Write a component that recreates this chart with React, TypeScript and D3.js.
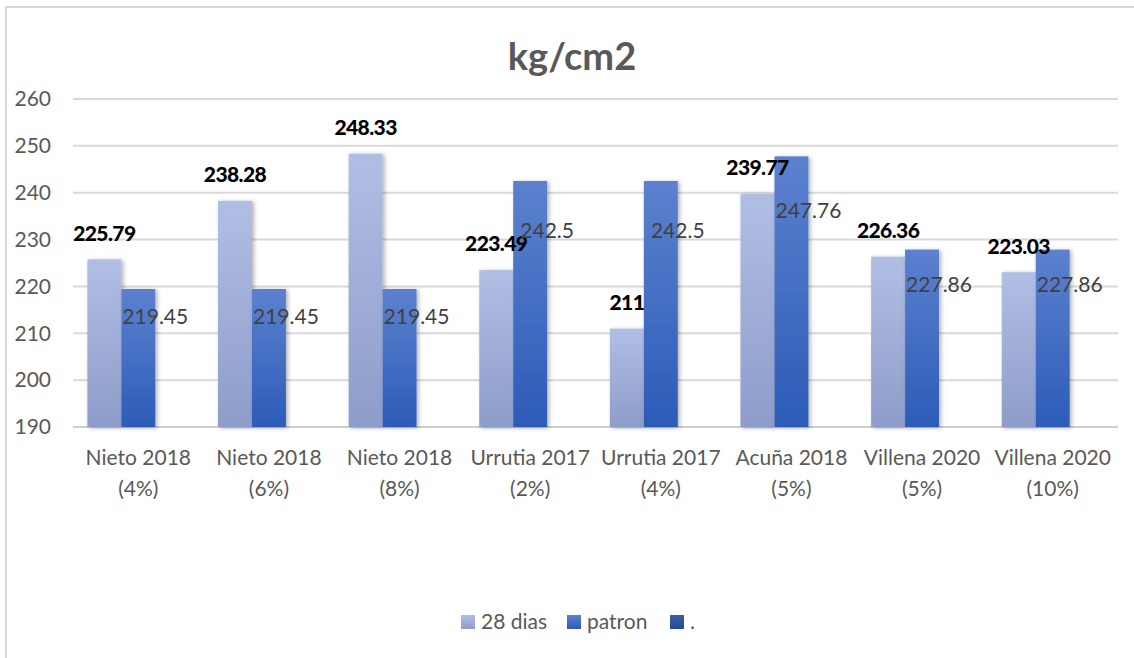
import React from "react";
import * as d3 from "d3";

const categories = [
  ["Nieto 2018", "(4%)"],
  ["Nieto 2018", "(6%)"],
  ["Nieto 2018", "(8%)"],
  ["Urrutia 2017", "(2%)"],
  ["Urrutia 2017", "(4%)"],
  ["Acuña 2018", "(5%)"],
  ["Villena 2020", "(5%)"],
  ["Villena 2020", "(10%)"],
];
const dias28 = [225.79, 238.28, 248.33, 223.49, 211, 239.77, 226.36, 223.03];
const patron = [219.45, 219.45, 219.45, 242.5, 242.5, 247.76, 227.86, 227.86];
const seriesNames = ["28 dias", "patron", "."];
const yTicks = [190, 200, 210, 220, 230, 240, 250, 260];

const W = 1134;
const H = 658;
const FONT = "Lato, 'Open Sans', sans-serif";

export default function App() {
  const margin = { top: 99, right: 16, bottom: 231, left: 73 };

  const x = d3
    .scaleBand<number>()
    .domain(d3.range(categories.length))
    .range([margin.left, W - margin.right])
    .paddingInner(0.22)
    .paddingOuter(0.11);

  const xSub = d3
    .scaleBand<string>()
    .domain(seriesNames)
    .range([0, x.bandwidth()]);

  const y = d3
    .scaleLinear()
    .domain([190, 260])
    .range([H - margin.bottom, margin.top]);

  const y0 = y(190);

  return (
    <svg
      width={W}
      height={H}
      style={{ position: "absolute", left: 0, top: 0, background: "#fff" }}
      fontFamily={FONT}
    >
      <defs>
        <linearGradient id="gLight" x1="0" y1="0" x2="0" y2="1">
          <stop offset="0%" stopColor="#b1bee4" />
          <stop offset="100%" stopColor="#8e9cca" />
        </linearGradient>
        <linearGradient id="gDark" x1="0" y1="0" x2="0" y2="1">
          <stop offset="0%" stopColor="#5c81cf" />
          <stop offset="100%" stopColor="#2c5cb7" />
        </linearGradient>
        <linearGradient id="gDot" x1="0" y1="0" x2="0" y2="1">
          <stop offset="0%" stopColor="#3b5ea8" />
          <stop offset="100%" stopColor="#274a90" />
        </linearGradient>
        <filter id="shadow" x="-20%" y="-5%" width="150%" height="110%">
          <feDropShadow dx="2" dy="1" stdDeviation="2" floodColor="#000" floodOpacity="0.3" />
        </filter>
      </defs>

      {/* chart border */}
      <rect x={6} y={7} width={W + 10} height={H + 10} fill="#fff" stroke="#d9d9d9" strokeWidth={2} />

      {/* title */}
      <text x={W / 2 + 5} y={70} textAnchor="middle" fontSize={38} fontWeight={700} fill="#595959">
        kg/cm2
      </text>

      {/* gridlines and y tick labels */}
      {yTicks.map((t) => (
        <g key={t}>
          <line
            x1={margin.left}
            x2={W - margin.right}
            y1={y(t)}
            y2={y(t)}
            stroke={t === 190 ? "#cfcfcf" : "#d9d9d9"}
            strokeWidth={2}
          />
          <text x={51} y={y(t)} dy="0.35em" textAnchor="end" fontSize={21} fill="#595959">
            {t}
          </text>
        </g>
      ))}

      {/* bars */}
      {categories.map((c, i) => {
        const gx = x(i) as number;
        const bw = xSub.bandwidth();
        const lx = gx + (xSub("28 dias") as number);
        const dx = gx + (xSub("patron") as number);
        return (
          <g key={i}>
            <rect
              x={lx}
              y={y(dias28[i])}
              width={bw}
              height={y0 - y(dias28[i])}
              fill="url(#gLight)"
              filter="url(#shadow)"
            />
            <rect
              x={dx}
              y={y(patron[i])}
              width={bw}
              height={y0 - y(patron[i])}
              fill="url(#gDark)"
              filter="url(#shadow)"
            />
          </g>
        );
      })}

      {/* labels */}
      {categories.map((c, i) => {
        const gx = x(i) as number;
        const bw = xSub.bandwidth();
        const lx = gx + (xSub("28 dias") as number) + bw / 2;
        const dEnd = gx + (xSub("patron") as number) + bw;
        const py = y(patron[i]) + 0.2 * (y0 - y(patron[i]));
        return (
          <g key={"l" + i}>
            <text
              x={lx}
              y={y(dias28[i]) - 26}
              dy="0.35em"
              textAnchor="middle"
              fontSize={21}
              fontWeight={900}
              letterSpacing={-0.6}
              fill="#000"
            >
              {dias28[i]}
            </text>
            <text x={dEnd} y={py} dy="0.35em" textAnchor="middle" fontSize={21} fill="#404040">
              {patron[i]}
            </text>
            <text x={gx + x.bandwidth() / 2} y={465} textAnchor="middle" fontSize={21} fill="#595959">
              {c[0]}
            </text>
            <text x={gx + x.bandwidth() / 2} y={496} textAnchor="middle" fontSize={21} fill="#595959">
              {c[1]}
            </text>
          </g>
        );
      })}

      {/* legend */}
      {[
        { name: seriesNames[0], fill: "url(#gLight)", sx: 461 },
        { name: seriesNames[1], fill: "url(#gDark)", sx: 567 },
        { name: seriesNames[2], fill: "url(#gDot)", sx: 670 },
      ].map((d) => (
        <g key={d.name}>
          <rect x={d.sx} y={615} width={14} height={14} fill={d.fill} />
          <text x={d.sx + 20} y={622} dy="0.35em" fontSize={21} fill="#595959">
            {d.name}
          </text>
        </g>
      ))}
    </svg>
  );
}
